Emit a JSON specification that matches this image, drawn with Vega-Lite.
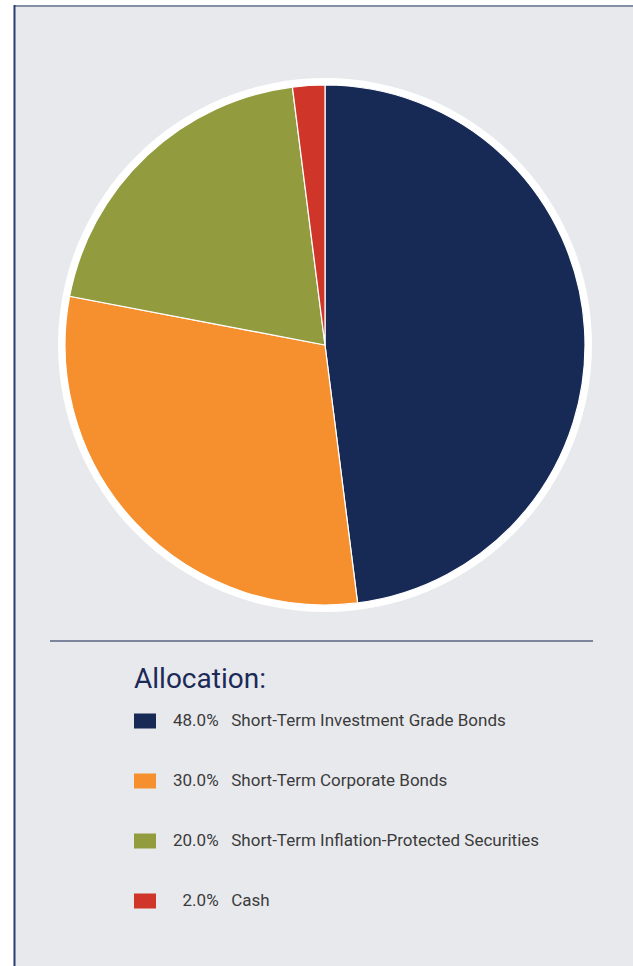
{
  "$schema": "https://vega.github.io/schema/vega-lite/v6.json",
  "width": 616,
  "height": 680,
  "autosize": {"type": "none"},
  "padding": {"left": 17, "top": 5, "right": 0, "bottom": 281},
  "background": "#e8e9ed",
  "config": {
    "view": {"stroke": null},
    "font": "Roboto, sans-serif"
  },
  "data": {
    "values": [
      {"category": "Short-Term Investment Grade Bonds", "pct": 48.0},
      {"category": "Short-Term Corporate Bonds", "pct": 30.0},
      {"category": "Short-Term Inflation-Protected Securities", "pct": 20.0},
      {"category": "Cash", "pct": 2.0}
    ]
  },
  "layer": [
    {
      "data": {"values": [{}]},
      "mark": {"type": "rule", "stroke": "#ffffff", "strokeWidth": 13.5},
      "encoding": {"x": {"value": -10.25}, "y": {"value": -5}, "y2": {"value": 961}}
    },
    {
      "data": {"values": [{}]},
      "mark": {"type": "rule", "stroke": "#ffffff", "strokeWidth": 5},
      "encoding": {"y": {"value": -2.5}, "x": {"value": -17}, "x2": {"value": 616}}
    },
    {
      "data": {"values": [{}]},
      "mark": {"type": "rule", "stroke": "#8590a8", "strokeWidth": 2},
      "encoding": {"y": {"value": 1}, "x": {"value": -3}, "x2": {"value": 616}}
    },
    {
      "data": {"values": [{}]},
      "mark": {"type": "rule", "stroke": "#2d3f70", "strokeWidth": 2},
      "encoding": {"x": {"value": -2.5}, "y": {"value": 0}, "y2": {"value": 961}}
    },
    {
      "data": {"values": [{}]},
      "mark": {"type": "rule", "stroke": "#7b869d", "strokeWidth": 2},
      "encoding": {"y": {"value": 636}, "x": {"value": 33}, "x2": {"value": 576}}
    },
    {
      "data": {"values": [{}]},
      "mark": {"type": "arc", "theta": 0, "theta2": 6.2832, "radius": 267, "fill": "#ffffff"},
      "encoding": {}
    },
    {
      "transform": [
        {"calculate": "(datum.pct < 10 ? '\u200b\u2007' : '') + format(datum.pct, '.1f') + '%\u00a0\u00a0\u00a0' + datum.category", "as": "label"}
      ],
      "mark": {"type": "arc", "radius": 260, "stroke": "#ffffff", "strokeWidth": 1.2},
      "encoding": {
        "theta": {"field": "pct", "type": "quantitative", "stack": true},
        "order": {"field": "pct", "sort": "descending"},
        "color": {
          "field": "label",
          "type": "nominal",
          "sort": {"field": "pct", "order": "descending"},
          "scale": {"range": ["#172a56", "#f68f2e", "#939b3f", "#cf3629"]},
          "legend": {
            "orient": "none",
            "legendX": 117,
            "legendY": 661,
            "title": "Allocation:",
            "titleFont": "Roboto, sans-serif",
            "titleFontSize": 28,
            "titleFontWeight": "normal",
            "titleColor": "#1b2a57",
            "titlePadding": 16,
            "titleLimit": 1000,
            "padding": 0,
            "symbolType": "M-1,-0.682H1V0.682H-1Z",
            "symbolSize": 484,
            "symbolStrokeWidth": 0,
            "symbolOpacity": 1,
            "labelFont": "Roboto, sans-serif",
            "labelFontSize": 17,
            "labelColor": "#3b3b3b",
            "labelOffset": 17,
            "labelLimit": 1000,
            "rowPadding": 41
          }
        }
      }
    }
  ]
}
